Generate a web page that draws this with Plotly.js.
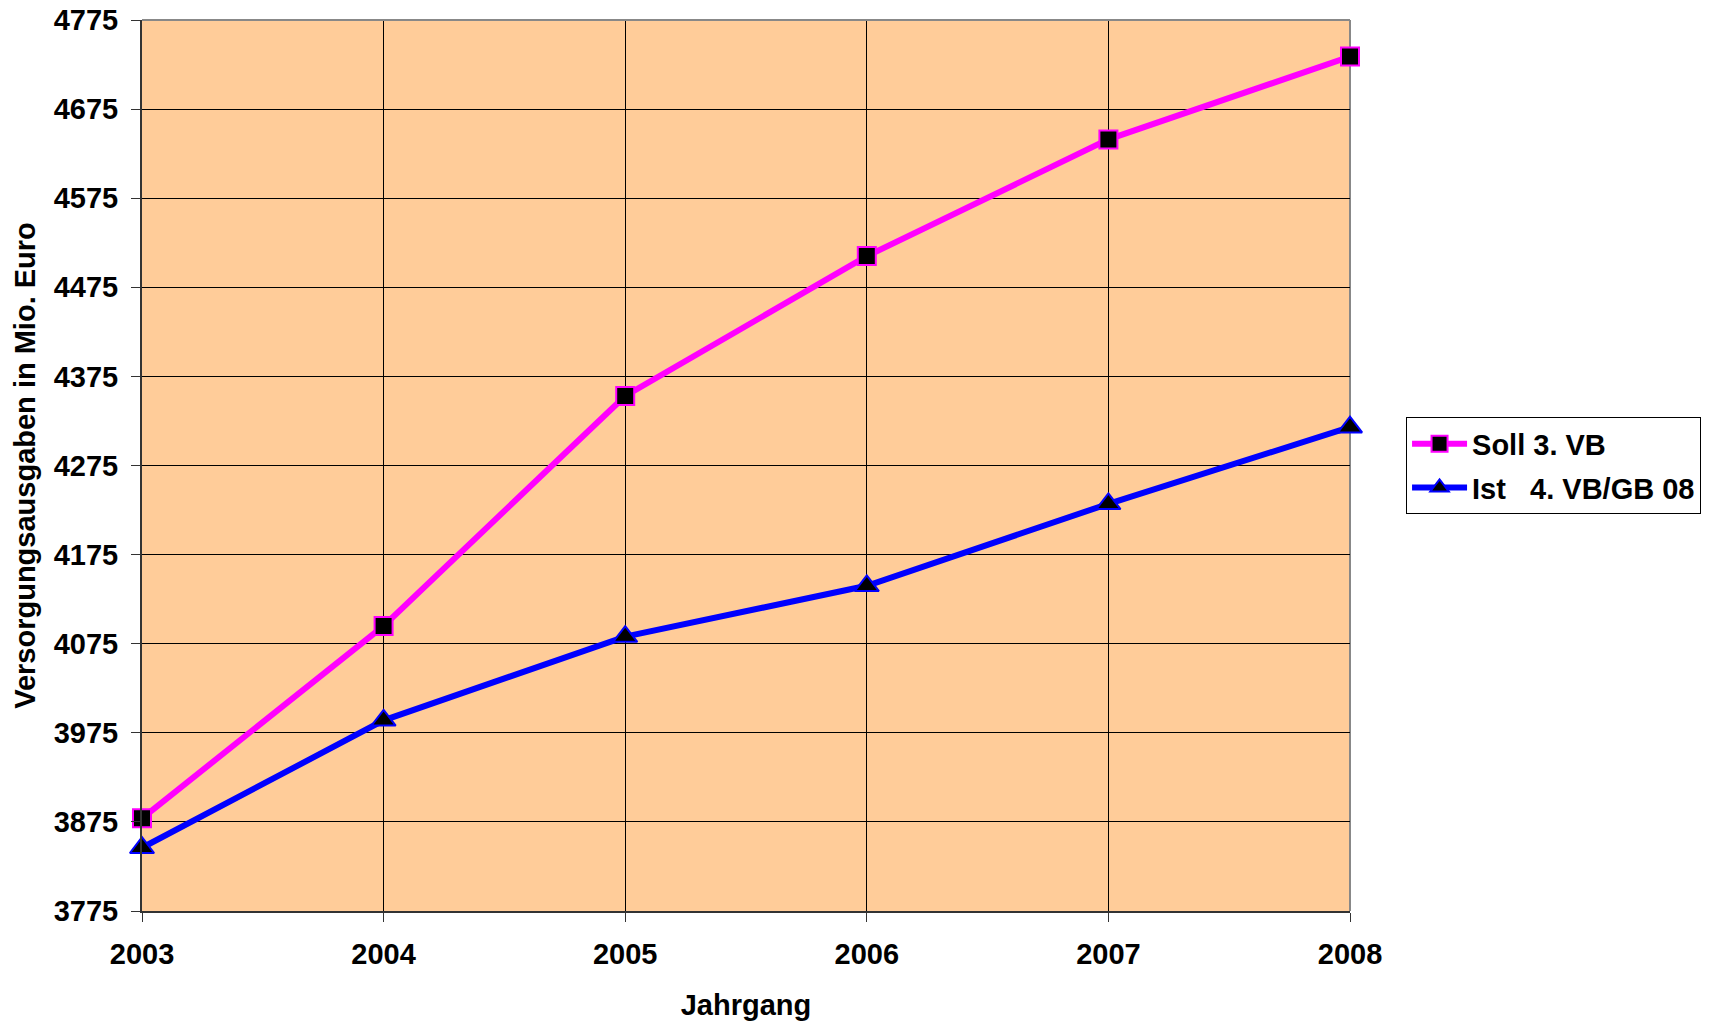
<!DOCTYPE html>
<html>
<head>
<meta charset="utf-8">
<script src="https://cdn.plot.ly/plotly-3.0.1.min.js"></script>
<style>html,body{margin:0;padding:0;background:#fff;}#chart{width:1713px;height:1023px;}</style>
</head>
<body>
<div id="chart"></div>
<script>
const years = [2003, 2004, 2005, 2006, 2007, 2008];
const sollValues = [3879, 4095, 4353, 4510, 4641, 4734];
const istValues = [3846, 3989, 4083, 4140, 4232, 4318];
const sollName = "Soll 3. VB";
const istName = "Ist\u00A0\u00A0\u00A04. VB/GB 08";
const yTicks = [3775, 3875, 3975, 4075, 4175, 4275, 4375, 4475, 4575, 4675, 4775];

const FONT = "Liberation Sans, Arial, Helvetica, sans-serif";
const TXT = {family: FONT, size: 29, color: "#000000", weight: "bold"};

const traces = [
  {
    x: years, y: sollValues, name: sollName, type: "scatter", mode: "lines+markers",
    legendgroup: "soll",
    line: {color: "#FF00FF", width: 6},
    marker: {symbol: "square", size: 18, color: "#000000", line: {color: "#FF00FF", width: 2}},
    cliponaxis: false
  },
  {
    x: years, y: istValues, name: istName, type: "scatter", mode: "lines+markers",
    legendgroup: "ist",
    line: {color: "#0000FF", width: 6},
    marker: {symbol: "triangle-up", size: 21, color: "#000000", line: {color: "#0000FF", width: 2}},
    cliponaxis: false
  }
];

const layout = {
  width: 1713, height: 1023,
  paper_bgcolor: "#FFFFFF",
  plot_bgcolor: "#FFCC99",
  margin: {l: 142, r: 363, t: 20, b: 112},
  font: TXT,
  showlegend: true,
  legend: {
    x: 1.0464, y: 0.554, xanchor: "left", yanchor: "top",
    bgcolor: "#FFFFFF", bordercolor: "#000000", borderwidth: 1,
    itemwidth: 55, tracegroupgap: 3,
    font: TXT
  },
  xaxis: {
    range: [2003, 2008], tickmode: "array", tickvals: years, ticktext: years.map(String),
    showgrid: true, gridcolor: "#000000", gridwidth: 1,
    zeroline: false, showline: true, linecolor: "#333333", linewidth: 2,
    ticks: "outside", ticklen: 9, tickcolor: "#333333", tickwidth: 1,
    ticklabelstandoff: 7,
    tickfont: TXT,
    title: {text: "Jahrgang", standoff: 26, font: TXT}
  },
  yaxis: {
    range: [3775, 4775], tickmode: "array", tickvals: yTicks, ticktext: yTicks.map(String),
    showgrid: true, gridcolor: "#000000", gridwidth: 1,
    zeroline: false, showline: true, linecolor: "#333333", linewidth: 2,
    ticks: "outside", ticklen: 9, tickcolor: "#333333", tickwidth: 1,
    ticklabelstandoff: 7,
    tickfont: TXT,
    title: {text: "Versorgungsausgaben in Mio. Euro", standoff: 10, font: TXT}
  },
  shapes: [
    {type: "line", xref: "paper", yref: "paper", x0: 0, x1: 1, y0: 1, y1: 1, line: {color: "#888888", width: 2}, layer: "above"},
    {type: "line", xref: "paper", yref: "paper", x0: 1, x1: 1, y0: 0, y1: 1, line: {color: "#888888", width: 2}, layer: "below"}
  ]
};

Plotly.newPlot("chart", traces, layout, {displayModeBar: false, staticPlot: true});
</script>
</body>
</html>
